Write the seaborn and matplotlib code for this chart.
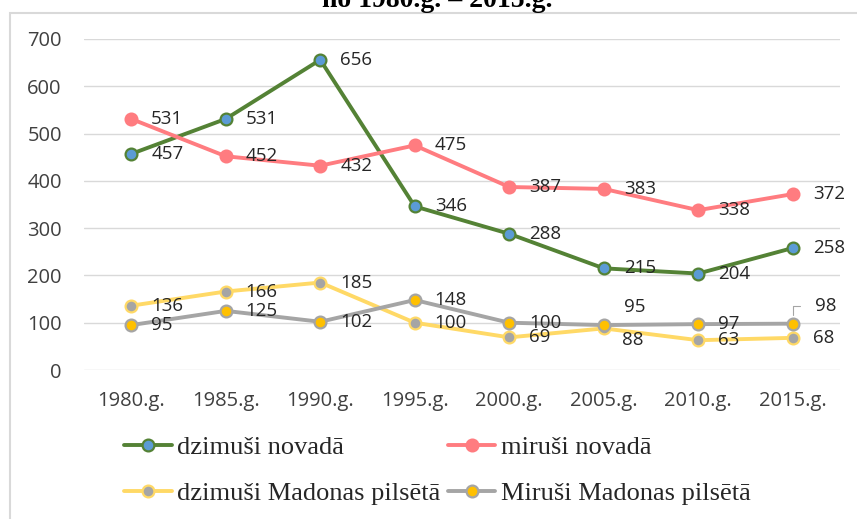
import matplotlib
matplotlib.use('Agg')
import matplotlib.pyplot as plt
from matplotlib.patches import Rectangle
import seaborn as sns
import pandas as pd

years = ['1980.g.', '1985.g.', '1990.g.', '1995.g.', '2000.g.', '2005.g.', '2010.g.', '2015.g.']
dzimusi_novada = [457, 531, 656, 346, 288, 215, 204, 258]
mirusi_novada = [531, 452, 432, 475, 387, 383, 338, 372]
dzimusi_madona = [136, 166, 185, 100, 69, 88, 63, 68]
mirusi_madona = [95, 125, 102, 148, 100, 95, 97, 98]

names = ['dzimuši novadā', 'miruši novadā', 'dzimuši Madonas pilsētā', 'Miruši Madonas pilsētā']
series = [dzimusi_novada, mirusi_novada, dzimusi_madona, mirusi_madona]

# line colour, marker fill, marker edge
styles = [
    ('#548235', '#5B9BD5', '#548235'),
    ('#FF7C80', '#FF7C80', '#FF7C80'),
    ('#FFD966', '#A5A5A5', '#FFD966'),
    ('#A5A5A5', '#FFC000', '#A5A5A5'),
]

# a few data labels that Excel moved off the usual right-hand spot (pixels)
label_moves = {(3, 5): (20, 18), (2, 5): (18, -12), (3, 7): (22, 18)}

sns.set_style('white')
plt.rcParams['font.family'] = ['Open Sans', 'DejaVu Sans']

fig = plt.figure(figsize=(8.57, 5.19), dpi=100)
ax = fig.add_axes([84 / 857, 1 - 370 / 519, (840 - 84) / 857, (370 - 39) / 519])

for k, (name, vals) in enumerate(zip(names, series)):
    line_c, face_c, edge_c = styles[k]
    df = pd.DataFrame({'year': years, 'value': vals})
    sns.lineplot(data=df, x='year', y='value', sort=False, ax=ax, label=name,
                 color=line_c, linewidth=2.8, marker='o', markersize=8.5,
                 markerfacecolor=face_c, markeredgecolor=edge_c, markeredgewidth=1.6,
                 zorder=3 + k)

for k, vals in enumerate(series):
    for i, v in enumerate(vals):
        dx, dy = label_moves.get((k, i), (20, 0))
        if (k, i) == (3, 7):
            ax.annotate(str(v), xy=(years[i], v), xytext=(dx, dy), textcoords='offset pixels',
                        ha='left', va='center', fontsize=13.5, color='#262626', zorder=10,
                        arrowprops=dict(arrowstyle='-', color='#A5A5A5', lw=0.8,
                                        connectionstyle='angle,angleA=0,angleB=90,rad=0',
                                        shrinkA=8, shrinkB=6))
        else:
            ax.annotate(str(v), xy=(years[i], v), xytext=(dx, dy), textcoords='offset pixels',
                        ha='left', va='center', fontsize=13.5, color='#262626', zorder=10)

ax.set_ylim(0, 700)
ax.set_xlim(-0.5, 7.5)
ax.set_yticks(range(0, 701, 100))
ax.grid(axis='y', color='#D9D9D9', linewidth=1)
ax.grid(axis='x', visible=False)
ax.set_axisbelow(True)
for s in ax.spines.values():
    s.set_visible(False)
ax.tick_params(axis='both', length=0, labelsize=14.5, labelcolor='#404040')
ax.tick_params(axis='y', pad=16)
ax.tick_params(axis='x', pad=15)
ax.set_xlabel('')
ax.set_ylabel('')

handles, labels = ax.get_legend_handles_labels()
ax.get_legend().remove()
order = [0, 2, 1, 3]
fig.legend([handles[i] for i in order], [labels[i] for i in order], ncol=2, loc='upper left',
           bbox_to_anchor=(124 / 857, 1 - 436 / 519),
           frameon=False, prop={'family': 'Liberation Serif', 'size': 19},
           handlelength=1.8, handletextpad=0.2, columnspacing=0.3, labelspacing=0.85,
           borderpad=0, borderaxespad=0)

fig.text(437 / 857, 1 - 7 / 519, 'no 1980.g. – 2015.g.', ha='center', va='baseline',
         family='Liberation Serif', fontsize=20, fontweight='bold', color='black')

fig.patches.append(Rectangle((10 / 857, -0.1), 2, 1.1 - 13 / 519, transform=fig.transFigure,
                             fill=False, edgecolor='#D9D9D9', linewidth=1.5))

fig.savefig('out.png', dpi=100)
